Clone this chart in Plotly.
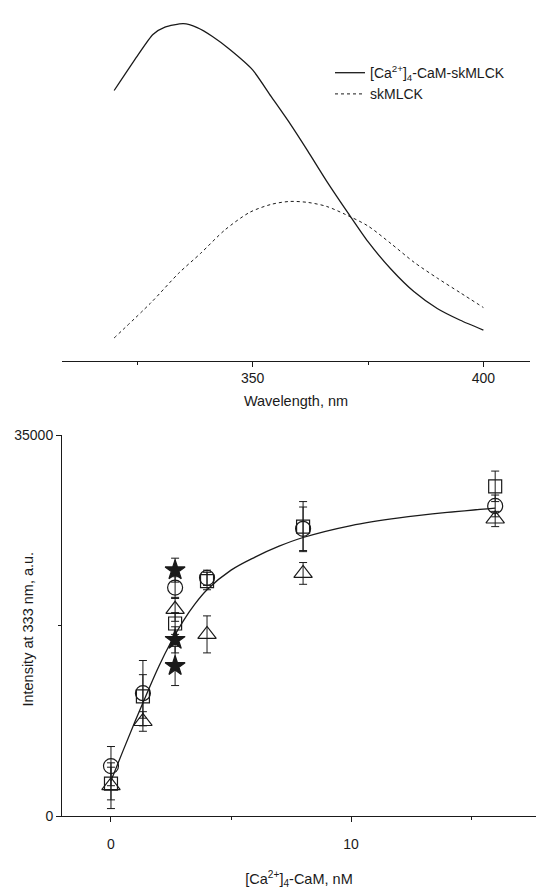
import plotly.graph_objects as go

# ---- Top panel: emission spectra (a.u.) ----
wl_complex = [320, 325, 328.4, 331, 335, 338, 341.3, 345, 350, 354, 358, 362, 366, 371, 375, 380, 385, 390, 395, 400]
int_complex = [27500, 31000, 33200, 33950, 34300, 33900, 33000, 31700, 29600, 26900, 24200, 21300, 18300, 14800, 12100, 9300, 7000, 5300, 4100, 3100]
wl_free = [320, 328, 334, 338.7, 344, 349.4, 354, 358, 362, 366, 370, 375, 380, 385, 390, 395, 400]
int_free = [2300, 5900, 8900, 10900, 13300, 15100, 15900, 16200, 16100, 15700, 14900, 13700, 11900, 10000, 8400, 6900, 5400]

# ---- Bottom panel: titration ----
conc = [0, 1.33, 2.67, 4, 8, 16]
circ_y = [4600, 11300, 21000, 21900, 26400, 28500]
circ_e = [1800, 3000, 1000, 700, 2000, 1000]
sq_y = [3000, 11000, 17700, 21600, 26600, 30300]
sq_e = [1500, 2000, 1000, 800, 2300, 1400]
tri_y = [2800, 8700, 19000, 16700, 22300, 27300]
tri_e = [2100, 900, 1100, 1700, 1000, 700]
star_x = [2.67, 2.67, 2.67]
star_y = [22600, 16200, 13800]
star_e = [1100, 1200, 1800]
fit_x = [0, 0.5, 1, 1.5, 2, 2.5, 3, 3.5, 4, 5, 6, 7, 8, 10, 12, 14, 16]
fit_y = [3250, 6000, 8700, 11300, 13800, 16000, 17900, 19500, 20800, 22600, 23800, 24800, 25600, 26700, 27400, 27900, 28300]

FONT = "Liberation Sans, Arial, sans-serif"
INK = "#1a1a1a"

fig = go.Figure()
fig.add_trace(go.Scatter(x=wl_complex, y=int_complex, mode="lines",
                         line=dict(color=INK, width=1.3, shape="spline", smoothing=0.6),
                         name="[Ca<sup>2+</sup>]<sub>4</sub>-CaM-skMLCK",
                         xaxis="x", yaxis="y"))
fig.add_trace(go.Scatter(x=wl_free, y=int_free, mode="lines",
                         line=dict(color=INK, width=1, dash="dot", shape="spline", smoothing=0.8),
                         name="skMLCK", xaxis="x", yaxis="y"))

fig.add_trace(go.Scatter(x=fit_x, y=fit_y, mode="lines", line=dict(color=INK, width=1.3, shape="spline"),
                         showlegend=False, xaxis="x2", yaxis="y2"))

def pts(x, y, e, symbol, size, fill):
    fig.add_trace(go.Scatter(
        x=x, y=y, mode="markers", showlegend=False, xaxis="x2", yaxis="y2",
        error_y=dict(type="data", array=e, visible=True, color=INK, thickness=1, width=4),
        marker=dict(symbol=symbol, size=size, color=fill,
                    line=dict(color=INK, width=1.2))))

pts(conc, tri_y, tri_e, "triangle-up-open", 16, INK)
pts(conc, sq_y, sq_e, "square-open", 13, INK)
pts(conc, circ_y, circ_e, "circle-open", 15, INK)
pts(star_x, star_y, star_e, "star", 15, INK)

x0 = 62 / 536
fig.update_layout(
    width=536, height=889,
    margin=dict(l=0, r=0, t=0, b=0),
    paper_bgcolor="white", plot_bgcolor="white",
    font=dict(family=FONT, size=14, color=INK),
    showlegend=True,
    legend=dict(x=330 / 536, y=1 - 50 / 889, xanchor="left", yanchor="top",
                bgcolor="rgba(0,0,0,0)", font=dict(size=14, color=INK),
                itemwidth=30, tracegroupgap=0),
    xaxis=dict(domain=[x0, 530 / 536], range=[308.7, 410.1], anchor="y",
               showline=True, linecolor=INK, linewidth=1, showgrid=False, zeroline=False,
               ticks="outside", ticklen=5, tickcolor=INK, tick0=350, dtick=50,
               minor=dict(ticks="outside", ticklen=3, tickcolor=INK, dtick=25, showgrid=False),
               tickfont=dict(size=14), ticklabelstandoff=0,
               title=dict(text="Wavelength, nm", font=dict(size=14.5), standoff=10)),
    yaxis=dict(domain=[1 - 359 / 889, 1.0], range=[0, 35900], anchor="x",
               visible=False, showgrid=False, zeroline=False),
    xaxis2=dict(domain=[x0, 1.0], range=[-2.04, 17.7], anchor="y2",
                showline=True, linecolor=INK, linewidth=1, showgrid=False, zeroline=False,
                ticks="outside", ticklen=5, tickcolor=INK, tick0=0, dtick=10,
                minor=dict(ticks="outside", ticklen=3, tickcolor=INK, dtick=5, showgrid=False),
                tickfont=dict(size=14), ticklabelstandoff=10,
                title=dict(text="[Ca<sup>2+</sup>]<sub>4</sub>-CaM, nM", font=dict(size=14.5), standoff=22)),
    yaxis2=dict(domain=[1 - 823 / 889, 1 - 435 / 889], range=[0, 35000], anchor="x2",
                showline=True, linecolor=INK, linewidth=1, showgrid=False, zeroline=False,
                ticks="outside", ticklen=5, tickcolor=INK, tick0=0, dtick=35000, tickformat="d",
                minor=dict(ticks="outside", ticklen=3, tickcolor=INK, dtick=17500, showgrid=False),
                tickfont=dict(size=14)),
    annotations=[dict(text="Intensity at 333 nm, a.u.", textangle=-90,
                      x=28 / 536, y=1 - 633 / 889, xref="paper", yref="paper",
                      xanchor="center", yanchor="middle", showarrow=False,
                      font=dict(size=14.5, color=INK))],
)

fig.write_html("out.html")
